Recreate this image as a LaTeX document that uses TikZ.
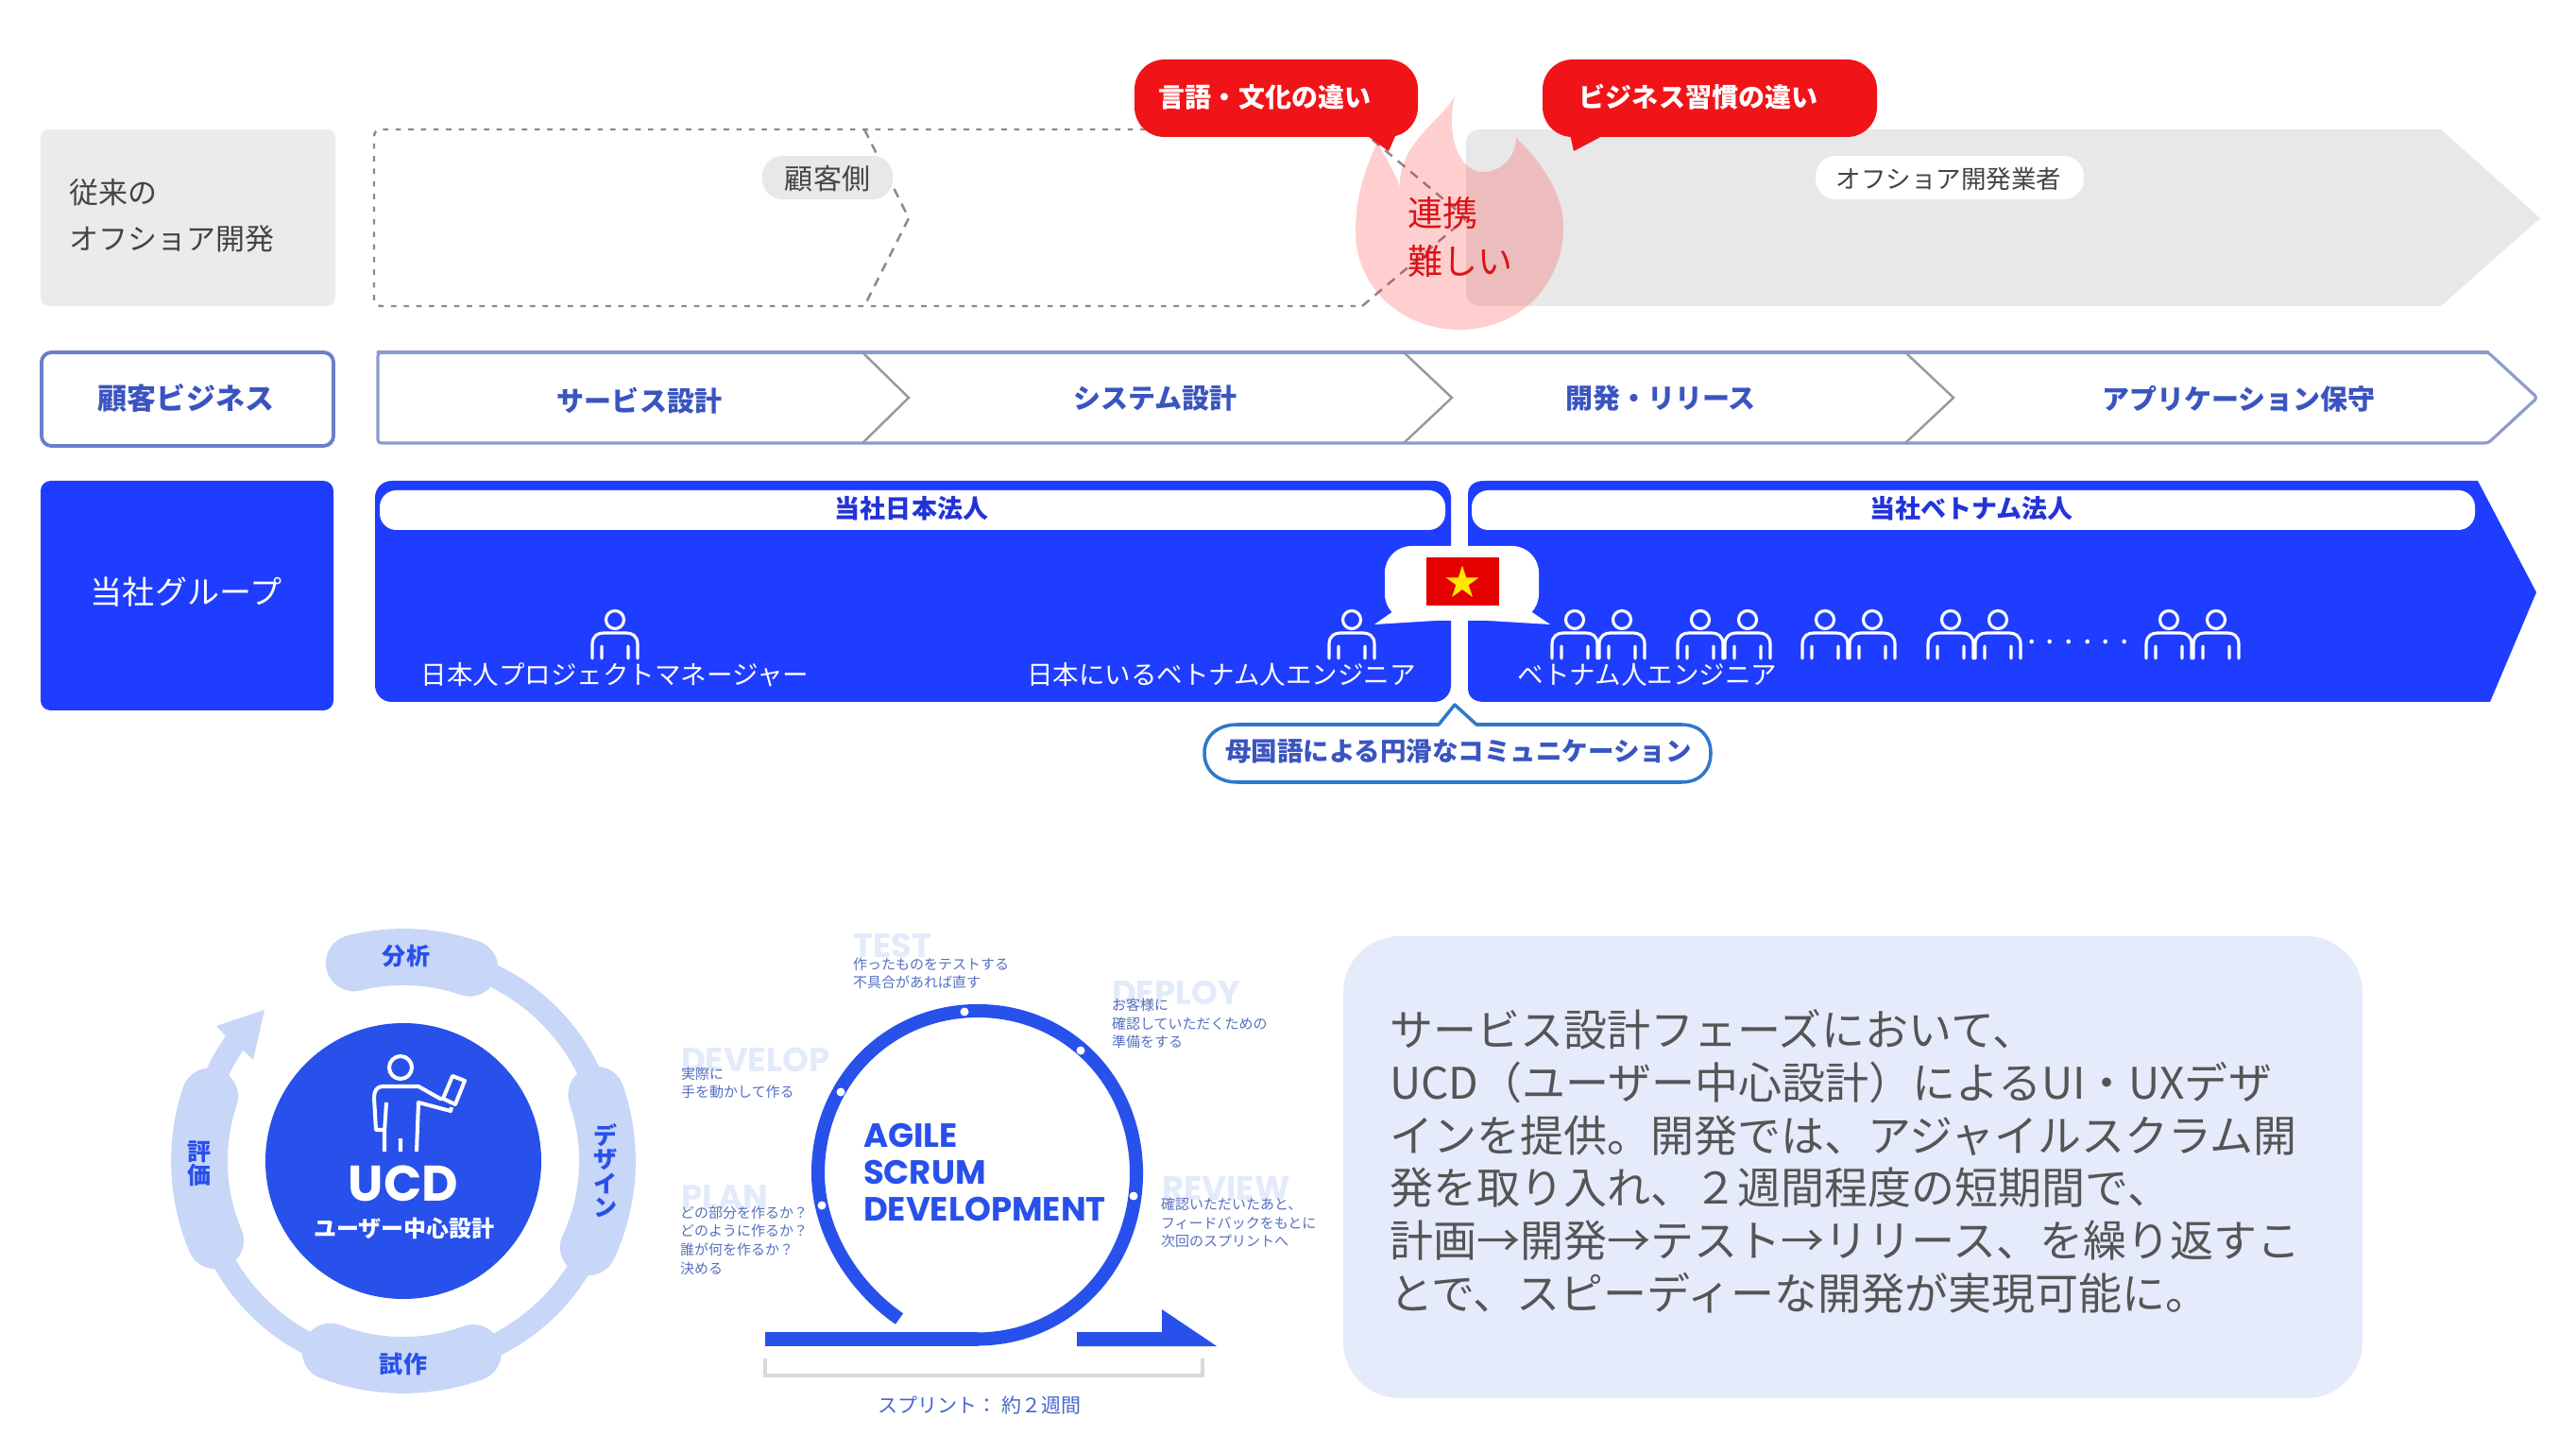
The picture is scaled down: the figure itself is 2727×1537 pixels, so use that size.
\documentclass[tikz,border=0pt]{standalone}
\usepackage{fontspec}
\usetikzlibrary{shapes.geometric}
\setmainfont{Noto Sans CJK JP}
\newfontfamily\popfont{Poppins}
\newcommand\fpx[2]{\fontsize{\the\dimexpr #1\dimexpr 0.2845pt\relax\relax}{\the\dimexpr #2\dimexpr 0.2845pt\relax\relax}\selectfont}
\definecolor{gbox}{HTML}{EBEBEB}
\definecolor{garrow}{HTML}{E8E8E8}
\definecolor{gdash}{HTML}{8A8A8A}
\definecolor{gtext}{HTML}{444444}
\definecolor{hotred}{HTML}{F01418}
\definecolor{vivid}{HTML}{1F3DFF}
\definecolor{rowedge}{HTML}{8C9AD0}
\definecolor{rowtext}{HTML}{3A55C0}
\definecolor{royal}{HTML}{2850EA}
\definecolor{padblue}{HTML}{C8D6F8}
\definecolor{faint}{HTML}{E3EAFA}
\definecolor{smalltxt}{HTML}{5570C0}
\definecolor{panel}{HTML}{E5EBFA}
\definecolor{paneltxt}{HTML}{555555}
\tikzset{
  lbl/.style={inner sep=0pt,outer sep=0pt,align=center},
  redt/.style={lbl,text=white,font=\fpx{28}{34}\bfseries},
  grayt/.style={lbl,text=gtext,font=\fpx{28}{34}},
  rowt/.style={lbl,text=rowtext,font=\fpx{29}{34}\bfseries},
  whitet/.style={lbl,text=white,font=\fpx{27.5}{32}},
  pillt/.style={lbl,text=rowtext,font=\fpx{27}{32}\bfseries},
  padt/.style={lbl,text=royal,font=\fpx{25}{25}\bfseries},
  smallt/.style={lbl,anchor=west,align=left,text=smalltxt,font=\fpx{15}{19.6}},
  ghost/.style={lbl,anchor=west,text=faint,font=\fpx{35.5}{40}\popfont\bfseries},
  band/.style={draw=padblue,line width=6.8pt},
  padarc/.style={draw=padblue,line width=17pt,line cap=round},
  person/.pic={
    \draw[white,line width=.9pt,line cap=round,line join=round]
      (0,0) circle[radius=9.5]
      (-24,41) -- (-24,26) .. controls (-24,17) and (-18,14) .. (-12,14) -- (12,14) .. controls (18,14) and (24,17) .. (24,26) -- (24,41)
      (-14,41) -- (-14,28) (14,41) -- (14,28);
  }
}
\begin{document}
\begin{tikzpicture}[x=0.01cm,y=-0.01cm]
\useasboundingbox (0,0) rectangle (2727,1537);
\fill[white] (0,0) rectangle (2727,1537);

% row 1
\fill[gbox,rounded corners=2.5pt] (43,137) rectangle (355,324);
\node[lbl,anchor=west,align=left,text=gtext,font=\fpx{31}{49}] (conv) at (73,228) {従来の\\オフショア開発};
\draw[gdash,line width=.7pt,dash pattern=on 1.6pt off 2.2pt,rounded corners=2pt]
  (1440,137) -- (396,137) -- (396,324) -- (1442,324);
\draw[gdash,line width=.7pt,dash pattern=on 2.8pt off 2.2pt] (915,137) -- (962,231) -- (915,324);
\draw[gdash,line width=.7pt,dash pattern=on 2.8pt off 2.2pt] (1442,324) -- (1552,231) -- (1440,137);
\fill[garrow] (1570,137) -- (2584,137) -- (2689,231) -- (2584,324) -- (1570,324) .. controls (1556,324) and (1552,318) .. (1552,308) -- (1552,153) .. controls (1552,143) and (1556,137) .. (1570,137) -- cycle;
\fill[garrow,rounded corners=6pt] (807,165) rectangle (945,211);
\node[grayt,font=\fpx{30}{34}] (cust) at (876,189) {顧客側};
\fill[white,rounded corners=6pt] (1922,165) rectangle (2206,211);
\node[grayt,font=\fpx{26.5}{30}] (off) at (2063,189) {オフショア開発業者};

% flame
\fill[red!85!white,opacity=.22]
  (1540,101) .. controls (1530,125) and (1480,150) .. (1482,198)
  .. controls (1476,180) and (1465,165) .. (1458,150)
  .. controls (1450,170) and (1435,200) .. (1435,245)
  .. controls (1435,305) and (1485,349) .. (1545,349)
  .. controls (1610,349) and (1655,300) .. (1655,240)
  .. controls (1655,200) and (1625,165) .. (1605,146)
  .. controls (1605,165) and (1590,182) .. (1570,182)
  .. controls (1545,182) and (1530,145) .. (1540,101) -- cycle;
\node[lbl,anchor=west,align=left,text=hotred!92!black,font=\fpx{37}{51}] (hard) at (1490,251) {連携\\難しい};

% red bubbles
\fill[hotred,rounded corners=9pt] (1201,63) rectangle (1501,145);
\fill[hotred] (1445,142) -- (1478,142) -- (1470,160) -- cycle;
\node[redt] (b1) at (1339,103) {言語・文化の違い};
\fill[hotred,rounded corners=9pt] (1633,63) rectangle (1987,145);
\fill[hotred] (1662,142) -- (1700,142) -- (1666,160) -- cycle;
\node[redt] (b2) at (1798,103) {ビジネス習慣の違い};

% row 2
\draw[rowedge!60!rowtext,line width=1.1pt,fill=white,rounded corners=3pt] (44,373) rectangle (353,472);
\node[rowt,font=\fpx{31}{34}\bfseries] (biz) at (197,421) {顧客ビジネス};
\draw[rowedge,line width=.9pt,fill=white,rounded corners=1pt] (400,373) -- (2634,373) -- (2686,421) -- (2634,469) -- (400,469) -- cycle;
\draw[rowedge,line width=.9pt,line cap=round] (400,373) -- (2634,373);
\foreach \xa/\xb in {913/962,1486/1537,2017/2068}
  \draw[black!40,line width=.7pt] (\xa,373) -- (\xb,421) -- (\xa,469);
\node[rowt] (s1) at (677,424) {サービス設計};
\node[rowt] (s2) at (1223,422) {システム設計};
\node[rowt] (s3) at (1758,422) {開発・リリース};
\node[rowt] (s4) at (2370,422) {アプリケーション保守};

% row 3
\fill[vivid,rounded corners=3pt] (43,509) rectangle (353,752);
\node[lbl,text=white,font=\fpx{34}{38}] (grp) at (197,627) {当社グループ};
\fill[vivid,rounded corners=5pt] (397,509) rectangle (1536,743);
\fill[vivid] (1572,509) -- (2623,509) -- (2685,627) -- (2636,743) -- (1572,743) .. controls (1560,743) and (1554,738) .. (1554,728) -- (1554,524) .. controls (1554,514) and (1560,509) .. (1572,509) -- cycle;
\fill[white,rounded corners=5pt] (402,519) rectangle (1530,561);
\fill[white,rounded corners=5pt] (1558,519) rectangle (2620,561);
\node[pillt,text=rowtext!60!blue] (jp) at (965,538) {当社日本法人};
\node[pillt,text=rowtext!60!blue] (vn) at (2087,538) {当社ベトナム法人};

% speech bubble + flag
\fill[white,rounded corners=8pt] (1466,578) rectangle (1629,657);
\fill[white] (1485,640) -- (1455,661) -- (1520,657) -- cycle;
\fill[white] (1610,640) -- (1641,661) -- (1575,657) -- cycle;
\fill[red!90!black] (1510,590) rectangle (1587,641);
\node[star,star points=5,star point ratio=2.618,fill=yellow!90!orange,inner sep=0pt,minimum size=10.5pt] (flagstar) at (1548,617) {};

% people
\foreach \px in {651,1431,1667,1717,1800,1850,1932,1982,2065,2115,2296,2346}
  \pic at (\px,656) {person};
\node[lbl,text=white,font=\fpx{34}{34}] (dots) at (2200,680) {. . . . . .};
\node[whitet] (pm) at (651,714) {日本人プロジェクトマネージャー};
\node[whitet] (jve) at (1293,714) {日本にいるベトナム人エンジニア};
\node[whitet] (ve) at (1744,714) {ベトナム人エンジニア};

% mother tongue pill
\draw[rowtext!80!cyan,line width=1pt,fill=white,line join=round]
  (1310,767) -- (1523,767) -- (1540,746) -- (1563,767) -- (1780,767)
  .. controls (1800,767) and (1811,780) .. (1811,797)
  .. controls (1811,815) and (1800,828) .. (1780,828)
  -- (1310,828) .. controls (1288,828) and (1275,815) .. (1275,797)
  .. controls (1275,780) and (1288,767) .. (1310,767) -- cycle;
\node[pillt,font=\fpx{27.5}{32}\bfseries] (mt) at (1544,795) {母国語による円滑なコミュニケーション};

% UCD
\begin{scope}[shift={(427,1229)},y=0.01cm]
  \draw[band] (72:218) arc[start angle=72,end angle=-215,radius=218];
  \draw[padarc] (104:216) arc[start angle=104,end angle=71,radius=216];
  \draw[padarc] (19:216) arc[start angle=19,end angle=-25,radius=216];
  \draw[padarc] (249:216) arc[start angle=249,end angle=290,radius=216];
  \draw[padarc] (161.5:216) arc[start angle=161.5,end angle=203,radius=216];
\end{scope}
\fill[padblue] (229,1086) -- (280,1069) -- (268,1122) -- (256,1110) -- (238,1135) -- (228,1120) -- (240,1098) -- cycle;
\fill[royal] (427,1229) circle[radius=146];
\draw[white,line width=1.15pt,line join=round,line cap=butt]
  (424,1130) circle[radius=12]
  (407,1219) -- (407,1196) -- (398,1196) -- (396,1162) .. controls (396,1155) and (399,1150) .. (405,1150) -- (443,1150) -- (466,1163) -- (470,1163)
  (478,1172) -- (477,1176) -- (443,1167) -- (441,1219)
  (409,1167) -- (407,1198)
  (424,1205) -- (424,1219)
  (479,1139) -- (492,1144) -- (482,1169) -- (469,1163) -- cycle;
\node[lbl,text=white,font=\fpx{53}{56}\popfont\bfseries] (ucd) at (427,1253) {UCD};
\node[lbl,text=white,font=\fpx{24}{26}\bfseries] (ucdj) at (428,1300) {ユーザー中心設計};
\node[padt] (a1) at (430,1012) {分析};
\node[padt,font=\fpx{25}{25.5}\bfseries] (a2) at (641,1239) {デ\\ザ\\イ\\ン};
\node[padt] (a3) at (427,1444) {試作};
\node[padt] (a4) at (211,1232) {評\\価};

% Agile
\node[ghost] (gt) at (903,1001) {TEST};
\node[ghost] (gd) at (1177,1051) {DEPLOY};
\node[ghost] (gv) at (721,1122) {DEVELOP};
\node[ghost] (gp) at (721,1267) {PLAN};
\node[ghost] (gr) at (1230,1258) {REVIEW};
\fill[royal] (810,1410) rectangle (1035,1425);
\draw[royal,line width=4pt]
  (1035,1417.5) .. controls (1130,1417) and (1203,1340) .. (1203,1242)
  .. controls (1203,1145) and (1130,1070) .. (1035,1070)
  .. controls (940,1070) and (866,1145) .. (866,1242)
  .. controls (866,1300) and (900,1360) .. (952,1396);
\fill[royal] (1140,1410) -- (1230,1410) -- (1230,1386) -- (1288,1425) -- (1140,1425) -- cycle;
\foreach \dx/\dy in {1021/1071,1144/1112,1200/1266,890/1156,870/1276}
  \fill[white] (\dx,\dy) circle[radius=4.5];
\draw[black!15,line width=.9pt] (810,1438) -- (810,1456) -- (1273,1456) -- (1273,1438);
\node[lbl,anchor=west,align=left,text=royal,font=\fpx{35.5}{38.5}\popfont\bfseries] (agile) at (914,1241) {AGILE\\SCRUM\\DEVELOPMENT};
\node[smallt] (t1) at (903,1030.5) {作ったものをテストする\\不具合があれば直す};
\node[smallt] (t2) at (1177,1083.5) {お客様に\\確認していただくための\\準備をする};
\node[smallt] (t3) at (721,1146.5) {実際に\\手を動かして作る};
\node[smallt] (t4) at (720,1313) {どの部分を作るか？\\どのように作るか？\\誰が何を作るか？\\決める};
\node[smallt] (t5) at (1229,1294.5) {確認いただいたあと、\\フィードバックをもとに\\次回のスプリントへ};
\node[lbl,text=smalltxt!70!royal,font=\fpx{21}{24}] (spr) at (1037,1488) {スプリント： 約２週間};

% panel
\fill[panel,rounded corners=17pt] (1422,991) rectangle (2501,1480);
\node[lbl,anchor=west,align=left,text=paneltxt,font=\fpx{46}{55.8}] (pt) at (1471,1229.5) {サービス設計フェーズにおいて、\\UCD（ユーザー中心設計）によるUI・UXデザ\\インを提供。開発では、アジャイルスクラム開\\発を取り入れ、２週間程度の短期間で、\\計画→開発→テスト→リリース、を繰り返すこ\\とで、スピーディーな開発が実現可能に。};
\end{tikzpicture}
\end{document}
